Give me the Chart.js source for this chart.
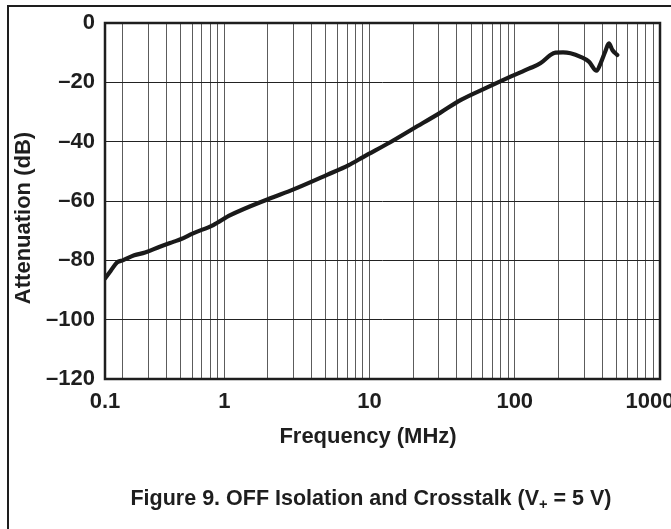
<!DOCTYPE html>
<html>
<head>
<meta charset="utf-8">
<script src="https://cdn.jsdelivr.net/npm/chart.js@4"></script>
<style>
  html, body { margin: 0; padding: 0; background: #fff; overflow: hidden; }
  #wrap { position: relative; width: 671px; height: 529px; }
  #c { position: absolute; left: 0; top: 0; }
  #caption {
    position: absolute; left: 371px; top: 487px; transform: translateX(-50%);
    white-space: nowrap; font: bold 21.5px "Liberation Sans", Arial, Helvetica, sans-serif;
    line-height: 22px; color: #1e1e1e;
  }
  #caption sub { font-size: 68%; line-height: 0; vertical-align: -0.25em; }
</style>
</head>
<body>
<div id="wrap">
  <canvas id="c" width="671" height="529"></canvas>
  <div id="caption">Figure 9. OFF Isolation and Crosstalk (V<sub>+</sub> = 5 V)</div>
</div>
<script>
// ---- data ----
const freqMHz = [0.151, 0.165, 0.183, 0.2, 0.24, 0.285, 0.36, 0.45, 0.5, 0.61, 0.84, 1.1,
  2.0, 3.0, 5.1, 7.2, 9.1, 13.9, 20.2, 30.8, 42.3, 64.6, 93.5, 125, 150, 176, 191, 215,
  242, 284, 324, 366, 390, 420, 445, 470, 508];
const attenuationDb = [-86.1, -83.6, -80.7, -80.0, -78.3, -77.4, -75.4, -73.7, -72.9, -70.9, -68.1, -64.8,
  -59.4, -56.1, -51.2, -47.9, -45.1, -40.2, -35.5, -30.2, -26.0, -21.7, -18.1, -15.4, -13.6, -10.8, -10.0, -9.9,
  -10.2, -11.4, -13.0, -16.1, -13.6, -9.6, -6.9, -9.1, -10.8];

// x axis: the plotted span starts at the left edge (labelled "0.1") and ends at 1000 MHz
const xAxisMin = 0.151;
const xAxisMax = 1000;
const xLabelValues = [0.151, 1, 10, 100, 1000];
const xLabelTexts  = ['0.1', '1', '10', '100', '1000'];
const yTickValues = [-120, -100, -80, -60, -40, -20, 0];
const yTickLabels = ['\u2013120', '\u2013100', '\u201380', '\u201360', '\u201340', '\u201320', '0'];
const xTitle = 'Frequency (MHz)';
const yTitle = 'Attenuation (dB)';

// grid lines of the log axis: 2..9 of every decade plus the decades
const xGridValues = [xAxisMin];
for (let e = -1; e <= 2; e++) {
  for (let m = 1; m <= 9; m++) {
    const v = Number((m * Math.pow(10, e)).toPrecision(3));
    if (v > xAxisMin && v < xAxisMax) xGridValues.push(v);
  }
}
xGridValues.push(xAxisMax);

const FONT = '"Liberation Sans", Arial, Helvetica, sans-serif';
const INK = '#1e1e1e';

const framePlugin = {
  id: 'framePlugin',
  beforeDraw(chart) {
    const ctx = chart.ctx;
    ctx.save();
    ctx.strokeStyle = INK;
    ctx.lineWidth = 2;
    ctx.beginPath();
    ctx.moveTo(8, 529);
    ctx.lineTo(8, 6);
    ctx.lineTo(671, 6);
    ctx.stroke();
    ctx.restore();
    // the last x label sits a little left of its grid line in the reference
    const xs = chart.scales.x;
    const items = xs.getLabelItems(chart.chartArea);
    items.forEach(it => {
      if (it.label === xLabelTexts[xLabelTexts.length - 1] && it.options && it.options.translation) {
        it.options.translation[0] -= 10;
      }
    });
  },
  afterDraw(chart) {
    const ctx = chart.ctx;
    const a = chart.chartArea;
    ctx.save();
    ctx.strokeStyle = INK;
    ctx.lineWidth = 2.5;
    ctx.strokeRect(a.left, a.top, a.right - a.left, a.bottom - a.top);
    ctx.fillStyle = INK;
    ctx.font = 'bold 22px ' + FONT;
    ctx.textAlign = 'center';
    ctx.textBaseline = 'alphabetic';
    ctx.fillText(xTitle, 368, 443);
    ctx.translate(30, 218);
    ctx.rotate(-Math.PI / 2);
    ctx.fillText(yTitle, 0, 0);
    ctx.restore();
  }
};

new Chart(document.getElementById('c'), {
  type: 'line',
  data: {
    datasets: [{
      data: freqMHz.map((f, i) => ({ x: f, y: attenuationDb[i] })),
      borderColor: '#1a1a1a',
      borderWidth: 4.2,
      pointRadius: 0,
      fill: false,
      cubicInterpolationMode: 'monotone',
      borderCapStyle: 'round',
      borderJoinStyle: 'round'
    }]
  },
  options: {
    responsive: false,
    animation: false,
    devicePixelRatio: 1,
    layout: { padding: { left: 0, top: 23, right: 11, bottom: 0 } },
    plugins: { legend: { display: false }, tooltip: { enabled: false }, title: { display: false } },
    scales: {
      x: {
        type: 'logarithmic',
        min: xAxisMin,
        max: xAxisMax,
        afterBuildTicks(scale) { scale.ticks = xGridValues.map(v => ({ value: v })); },
        afterFit(scale) { scale.height = 150; scale.paddingLeft = 0; scale.paddingRight = 0; },
        grid: { color: '#5c5c5c', lineWidth: 1, drawTicks: false },
        border: { display: false },
        ticks: {
          autoSkip: false, maxRotation: 0, minRotation: 0, padding: 10,
          color: INK, font: { family: FONT, size: 22, weight: 'bold' },
          callback(v) {
            const i = xLabelValues.findIndex(t => Math.abs(t - v) < 1e-9);
            return i >= 0 ? xLabelTexts[i] : '';
          }
        }
      },
      y: {
        type: 'linear',
        min: -120,
        max: 0,
        afterBuildTicks(scale) { scale.ticks = yTickValues.map(v => ({ value: v })); },
        afterFit(scale) { scale.width = 105; scale.paddingTop = 0; scale.paddingBottom = 0; },
        grid: { color: '#222', lineWidth: 1, drawTicks: false },
        border: { display: false },
        ticks: {
          padding: 10, color: INK, font: { family: FONT, size: 22, weight: 'bold' },
          callback(v) {
            const i = yTickValues.indexOf(v);
            return i >= 0 ? yTickLabels[i] : '';
          }
        }
      }
    }
  },
  plugins: [framePlugin]
});
</script>
</body>
</html>
